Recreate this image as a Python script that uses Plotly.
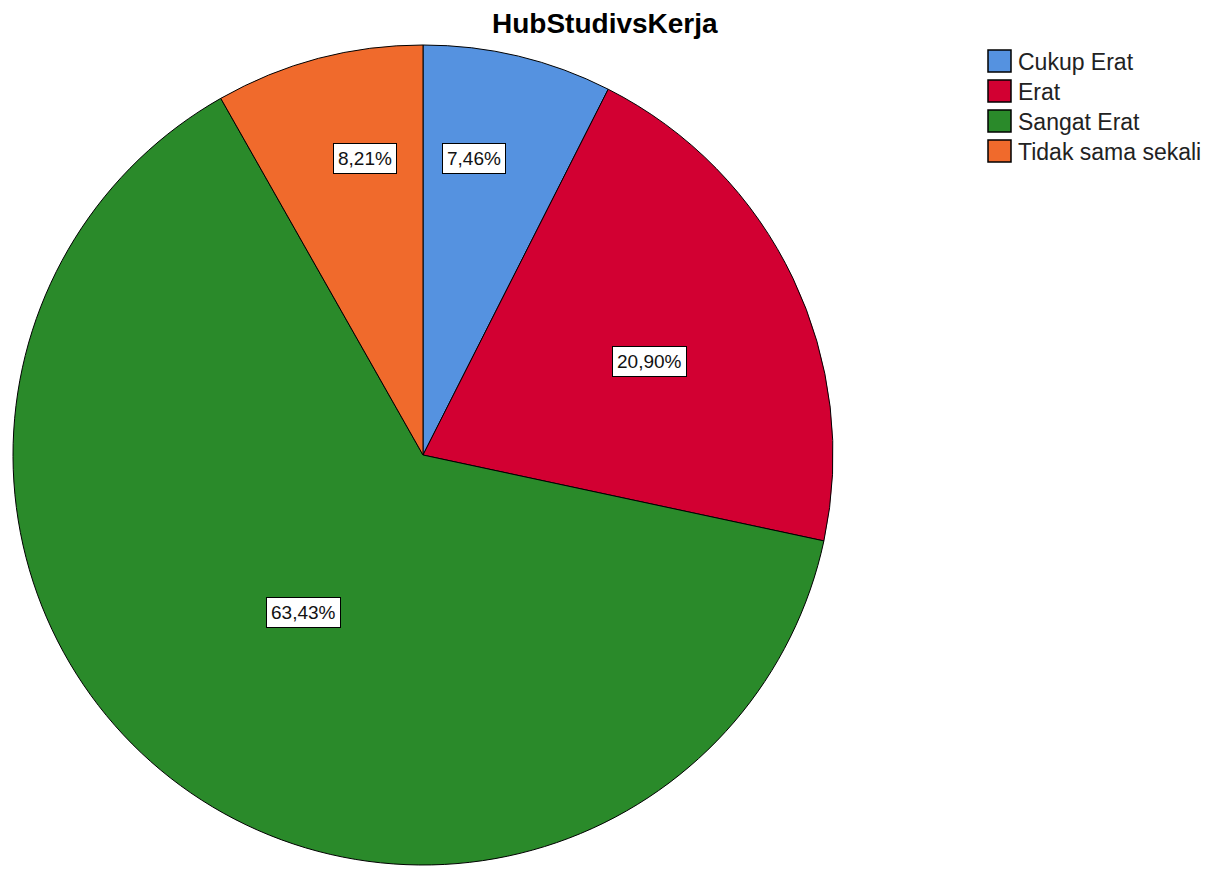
import math
import plotly.graph_objects as go

title = "HubStudivsKerja"
categories = ["Cukup Erat", "Erat", "Sangat Erat", "Tidak sama sekali"]
percentages = [7.46, 20.90, 63.43, 8.21]
label_texts = ["7,46%", "20,90%", "63,43%", "8,21%"]

colors = ["#5592E0", "#D20032", "#2A8A2A", "#F06A2C"]
# label placement (style): distance as fraction of radius, angular nudge in degrees
label_r = [0.734, 0.598, 0.482, 0.738]
label_nudge = [-3.7, 3.2, 1.1, 3.75]

W, H = 1210, 871
OFF = 8  # page body margin offset
cx, cy, R = 423 - OFF, 455 - OFF, 410
FONT = "Liberation Sans, Arial, sans-serif"


def px_x(x):
    return x / W


def px_y(y):
    return 1 - y / H


fig = go.Figure()
fig.add_trace(go.Pie(
    labels=categories,
    values=percentages,
    sort=False,
    direction="clockwise",
    rotation=0,
    marker=dict(colors=colors, line=dict(color="black", width=1)),
    textinfo="none",
    hoverinfo="skip",
    showlegend=False,
    domain=dict(x=[px_x(cx - R), px_x(cx + R)], y=[px_y(cy + R), px_y(cy - R)]),
))

annotations = []
total = sum(percentages)
cum = 0.0
for v, txt, rf, nd in zip(percentages, label_texts, label_r, label_nudge):
    mid = (cum + v / 2) / total * 2 * math.pi + math.radians(nd)
    cum += v
    lx = cx + rf * R * math.sin(mid)
    ly = cy - rf * R * math.cos(mid)
    annotations.append(dict(
        x=px_x(lx), y=px_y(ly), xref="paper", yref="paper",
        text=txt, showarrow=False, xanchor="center", yanchor="middle",
        font=dict(family=FONT, size=19, color="#111111"),
        bgcolor="white", bordercolor="black", borderwidth=1, borderpad=4,
    ))

# custom legend
shapes = []
lx0, ly0, row_h, sq_w, sq_h = 988 - OFF, 50 - OFF, 30, 23, 22
for i, (cat, col) in enumerate(zip(categories, colors)):
    top = ly0 + i * row_h
    shapes.append(dict(
        type="rect", xref="paper", yref="paper",
        x0=px_x(lx0), x1=px_x(lx0 + sq_w),
        y0=px_y(top + sq_h), y1=px_y(top),
        fillcolor=col, line=dict(color="black", width=1.5),
    ))
    annotations.append(dict(
        x=px_x(lx0 + sq_w + 5), y=px_y(top + sq_h / 2 + 1),
        xref="paper", yref="paper", text=cat, showarrow=False,
        xanchor="left", yanchor="middle",
        font=dict(family=FONT, size=23, color="#222222"),
    ))

annotations.append(dict(
    x=px_x(605 - OFF), y=px_y(24 - OFF), xref="paper", yref="paper",
    text="<b>" + title + "</b>", showarrow=False,
    xanchor="center", yanchor="middle",
    font=dict(family=FONT, size=28, color="black"),
))

fig.update_layout(
    width=W, height=H,
    margin=dict(l=0, r=0, t=0, b=0),
    paper_bgcolor="white", plot_bgcolor="white",
    annotations=annotations, shapes=shapes,
    showlegend=False,
)

fig.write_html("out.html")
